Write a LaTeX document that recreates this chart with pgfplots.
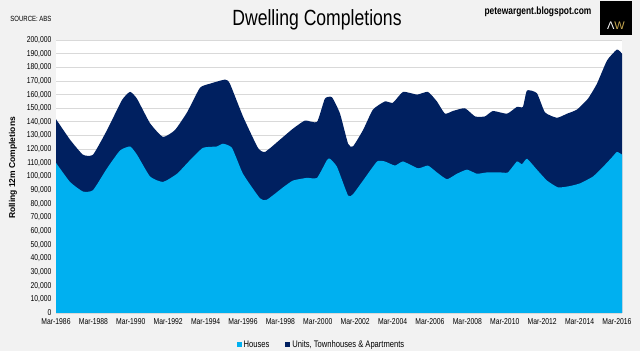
\documentclass[border=0pt]{standalone}
\usepackage{fontspec}
\setmainfont{Liberation Sans}
\newfontfamily\narrow{Liberation Sans}[FakeStretch=0.8]
\usepackage{pgfplots}
\usepackage{pgfplotstable}
\pgfplotsset{compat=1.18}
\definecolor{bg}{HTML}{F2F2F2}
\definecolor{houses}{HTML}{00B0F0}
\definecolor{units}{HTML}{002060}
\definecolor{gridc}{HTML}{D9D9D9}
\definecolor{gold}{HTML}{C8A951}

\pgfplotstableread{
x y
1986.17 142000
1986.92 127000
1987.61 116000
1988.15 116000
1988.90 134000
1989.70 156000
1990.13 162000
1990.50 157000
1991.20 139000
1991.89 129000
1992.53 134000
1993.18 147000
1993.87 165000
1994.41 168000
1995.21 171000
1995.47 168000
1996.17 144000
1996.97 121000
1997.35 118000
1998.15 127000
1998.84 135000
1999.49 141000
2000.13 140000
2000.55 157000
2000.93 158000
2001.36 146000
2001.79 124000
2002.05 122000
2002.59 134000
2003.12 149000
2003.76 155000
2004.19 154000
2004.73 162000
2005.48 160000
2006.06 162000
2006.54 155000
2006.97 146000
2007.40 148000
2008.04 150000
2008.58 144000
2009.11 144000
2009.54 148000
2010.29 146000
2010.82 151000
2011.14 151000
2011.36 163000
2011.89 161000
2012.32 147000
2012.96 143000
2013.50 146000
2014.03 149000
2014.62 157000
2015.10 168000
2015.64 185000
2016.17 193000
2016.44 190000
}\totaltab

\pgfplotstableread{
x y
1986.17 110000
1986.92 96000
1987.61 89000
1988.15 90000
1988.90 106000
1989.59 119000
1990.13 122000
1990.50 116000
1991.20 100000
1991.89 96000
1992.64 102000
1993.34 112000
1994.03 121000
1994.78 122000
1995.10 124000
1995.58 121000
1996.17 102000
1997.08 84000
1997.45 83000
1998.31 92000
1998.84 97000
1999.59 99000
2000.13 99000
2000.66 112000
2000.82 113000
2001.20 107000
2001.79 86000
2002.05 87000
2002.59 97000
2003.34 111000
2003.76 111000
2004.30 108000
2004.73 111000
2005.53 106000
2006.06 108000
2006.54 103000
2007.08 98000
2007.61 102000
2008.15 105000
2008.68 102000
2009.22 103000
2009.91 103000
2010.34 103000
2010.82 111000
2011.09 109000
2011.36 113000
2011.89 105000
2012.43 97000
2013.02 92000
2013.66 93000
2014.20 95000
2014.89 100000
2015.42 107000
2015.90 114000
2016.17 118000
2016.44 116000
}\housetab

\begin{document}
\begin{tikzpicture}[x=1pt,y=1pt]
\fill[bg] (0pt,0pt) rectangle (640pt,351pt);
\begin{axis}[
  at={(56pt,38pt)}, anchor=south west,
  scale only axis, width=566pt, height=273pt,
  xmin=1986.17, xmax=2016.44, ymin=0, ymax=200000,
  axis background/.style={fill=white},
  axis line style={draw=none},
  major tick style={draw=none},
  ytick={0,10000,...,200000},
  xtick={1986.17,1988.17,1990.17,1992.17,1994.17,1996.17,1998.17,2000.17,2002.17,2004.17,2006.17,2008.17,2010.17,2012.17,2014.17,2016.17},
  xticklabels={Mar-1986,Mar-1988,Mar-1990,Mar-1992,Mar-1994,Mar-1996,Mar-1998,Mar-2000,Mar-2002,Mar-2004,Mar-2006,Mar-2008,Mar-2010,Mar-2012,Mar-2014,Mar-2016},
  ymajorgrids, grid style={gridc, line width=0.8pt},
  scaled y ticks=false,
  yticklabel={\pgfmathprintnumber[fixed,precision=0,1000 sep={,},assume math mode=true]{\tick}},
  yticklabel style={font=\narrow\fontsize{8.5}{9}\selectfont, xshift=-1pt},
  xticklabel style={font=\narrow\fontsize{8.5}{9}\selectfont, yshift=-2.5pt},
  legend style={at={(0.469,-0.117)}, anchor=center, draw=none, fill=none,
    font=\narrow\fontsize{9.5}{10}\selectfont, legend columns=2,
    /tikz/every even column/.append style={column sep=14pt}},
  reverse legend,
  legend image code/.code={\fill[#1] (0pt,-2.5pt) rectangle (5pt,2.5pt);},
]
\addplot[draw=none, fill=units, smooth, tension=0.3] table[x=x,y=y] {\totaltab} \closedcycle;
\addlegendentry{Units, Townhouses \& Apartments}
\addplot[draw=none, fill=houses, smooth, tension=0.3] table[x=x,y=y] {\housetab} \closedcycle;
\addlegendentry{Houses}
\end{axis}
\node[font=\narrow\fontsize{22}{24}\selectfont] at (317pt,331pt) {Dwelling Completions};
\node[font=\narrow\fontsize{7.5}{8}\selectfont] at (31pt,332pt) {SOURCE: ABS};
\node[font=\narrow\bfseries\fontsize{10.5}{11}\selectfont] at (538pt,339pt) {petewargent.blogspot.com};
\fill[black] (600pt,316pt) rectangle (632pt,350pt);
\node[font=\fontsize{11}{12}\selectfont, inner sep=0pt] at (616pt,325pt) {\textcolor{white}{Λ}\textcolor{gold}{W}};
\node[font=\bfseries\fontsize{8.5}{9}\selectfont, rotate=90] at (13pt,183pt) {Rolling 12m Completions};
\end{tikzpicture}
\end{document}
